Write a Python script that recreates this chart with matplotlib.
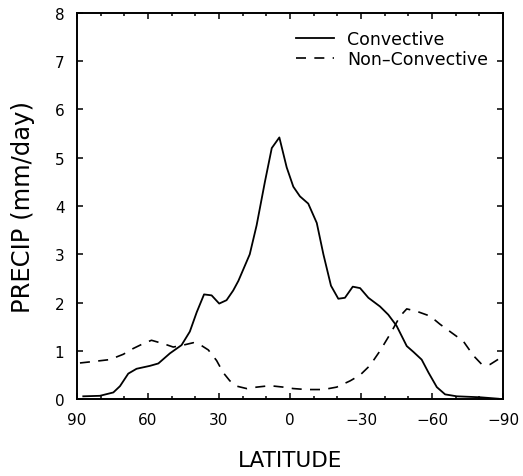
import numpy as np
import matplotlib
matplotlib.use('Agg')
import matplotlib.pyplot as plt

plt.rcParams['font.family'] = ['DejaVu Sans']

# zonal mean precipitation, convective part
lat_conv = [87.3, 80.3, 74.6, 71.8, 68.3, 64.8, 59.2, 55.6, 50.7, 45.8, 42.3, 39.4,
            36.3, 33.1, 29.9, 26.8, 24.0, 21.8, 17.0, 14.1, 10.6, 7.7, 4.5, 1.4,
            -1.4, -4.2, -7.7, -11.3, -14.1, -17.3, -20.4, -23.2, -26.5, -29.6,
            -33.1, -38.0, -41.5, -45.0, -49.3, -52.1, -55.6, -58.5, -62.0, -65.5,
            -70.4, -80.3, -88.0]
conv = [0.06, 0.07, 0.14, 0.27, 0.53, 0.63, 0.69, 0.74, 0.95, 1.12, 1.40, 1.80,
        2.17, 2.15, 1.98, 2.05, 2.25, 2.45, 3.00, 3.60, 4.50, 5.20, 5.42, 4.80,
        4.40, 4.20, 4.05, 3.65, 3.00, 2.35, 2.08, 2.10, 2.33, 2.30,
        2.10, 1.92, 1.75, 1.52, 1.10, 0.98, 0.82, 0.55, 0.25, 0.10,
        0.06, 0.04, 0.01]

# large-scale (non-convective) part
lat_nonconv = [88.7, 83.1, 76.1, 70.4, 66.2, 62.0, 58.5, 53.5, 49.3, 45.1, 40.8, 38.0,
               34.5, 31.0, 28.2, 25.4, 22.5, 18.3, 14.1, 8.5, 2.8, -1.4, -7.0, -14.1,
               -19.7, -25.4, -29.6, -33.8, -38.0, -42.3, -46.5, -49.3, -53.5, -59.2,
               -63.4, -69.0, -73.2, -77.5, -81.0, -84.5, -88.7]
nonconv = [0.75, 0.78, 0.82, 0.93, 1.05, 1.15, 1.22, 1.15, 1.08, 1.12, 1.17, 1.13,
           1.02, 0.80, 0.55, 0.38, 0.27, 0.22, 0.25, 0.28, 0.25, 0.22, 0.20, 0.20,
           0.25, 0.38, 0.50, 0.70, 1.00, 1.35, 1.72, 1.87, 1.82, 1.72,
           1.55, 1.35, 1.20, 0.90, 0.72, 0.72, 0.85]

xticks = [90, 60, 30, 0, -30, -60, -90]
xticklabels = ['90', '60', '30', '0', '\u221230', '\u221260', '\u221290']

fig = plt.figure(figsize=(5.23, 4.77), dpi=100)
ax = fig.add_axes([0.147, 0.161, 0.815, 0.81])

ax.plot(lat_conv, conv, color='black', lw=1.3, label='Convective')
ax.plot(lat_nonconv, nonconv, color='black', lw=1.2, linestyle=(0, (6, 5)),
        label='Non\u2013Convective')

ax.set_xlim(90, -90)
ax.set_ylim(0, 8)
ax.set_xticks(xticks)
ax.set_xticklabels(xticklabels)
ax.set_xticks(np.arange(-80, 90, 10), minor=True)
ax.set_yticks(range(0, 9))

ax.tick_params(which='both', direction='in', top=True, right=True,
               width=1.1, labelsize=11, pad=9)
ax.tick_params(which='major', length=4.5)
ax.tick_params(which='minor', length=2.3)
for s in ax.spines.values():
    s.set_linewidth(1.4)

ax.set_xlabel('LATITUDE', fontsize=15.5, labelpad=17)
ax.set_ylabel('PRECIP (mm/day)', fontsize=17.5, labelpad=14)

ax.legend(loc='upper right', bbox_to_anchor=(0.965, 0.955), frameon=False,
          fontsize=12.5, handlelength=2.2, handletextpad=0.75, labelspacing=0.1,
          borderpad=0, borderaxespad=0)

fig.savefig('out.png', dpi=100)
